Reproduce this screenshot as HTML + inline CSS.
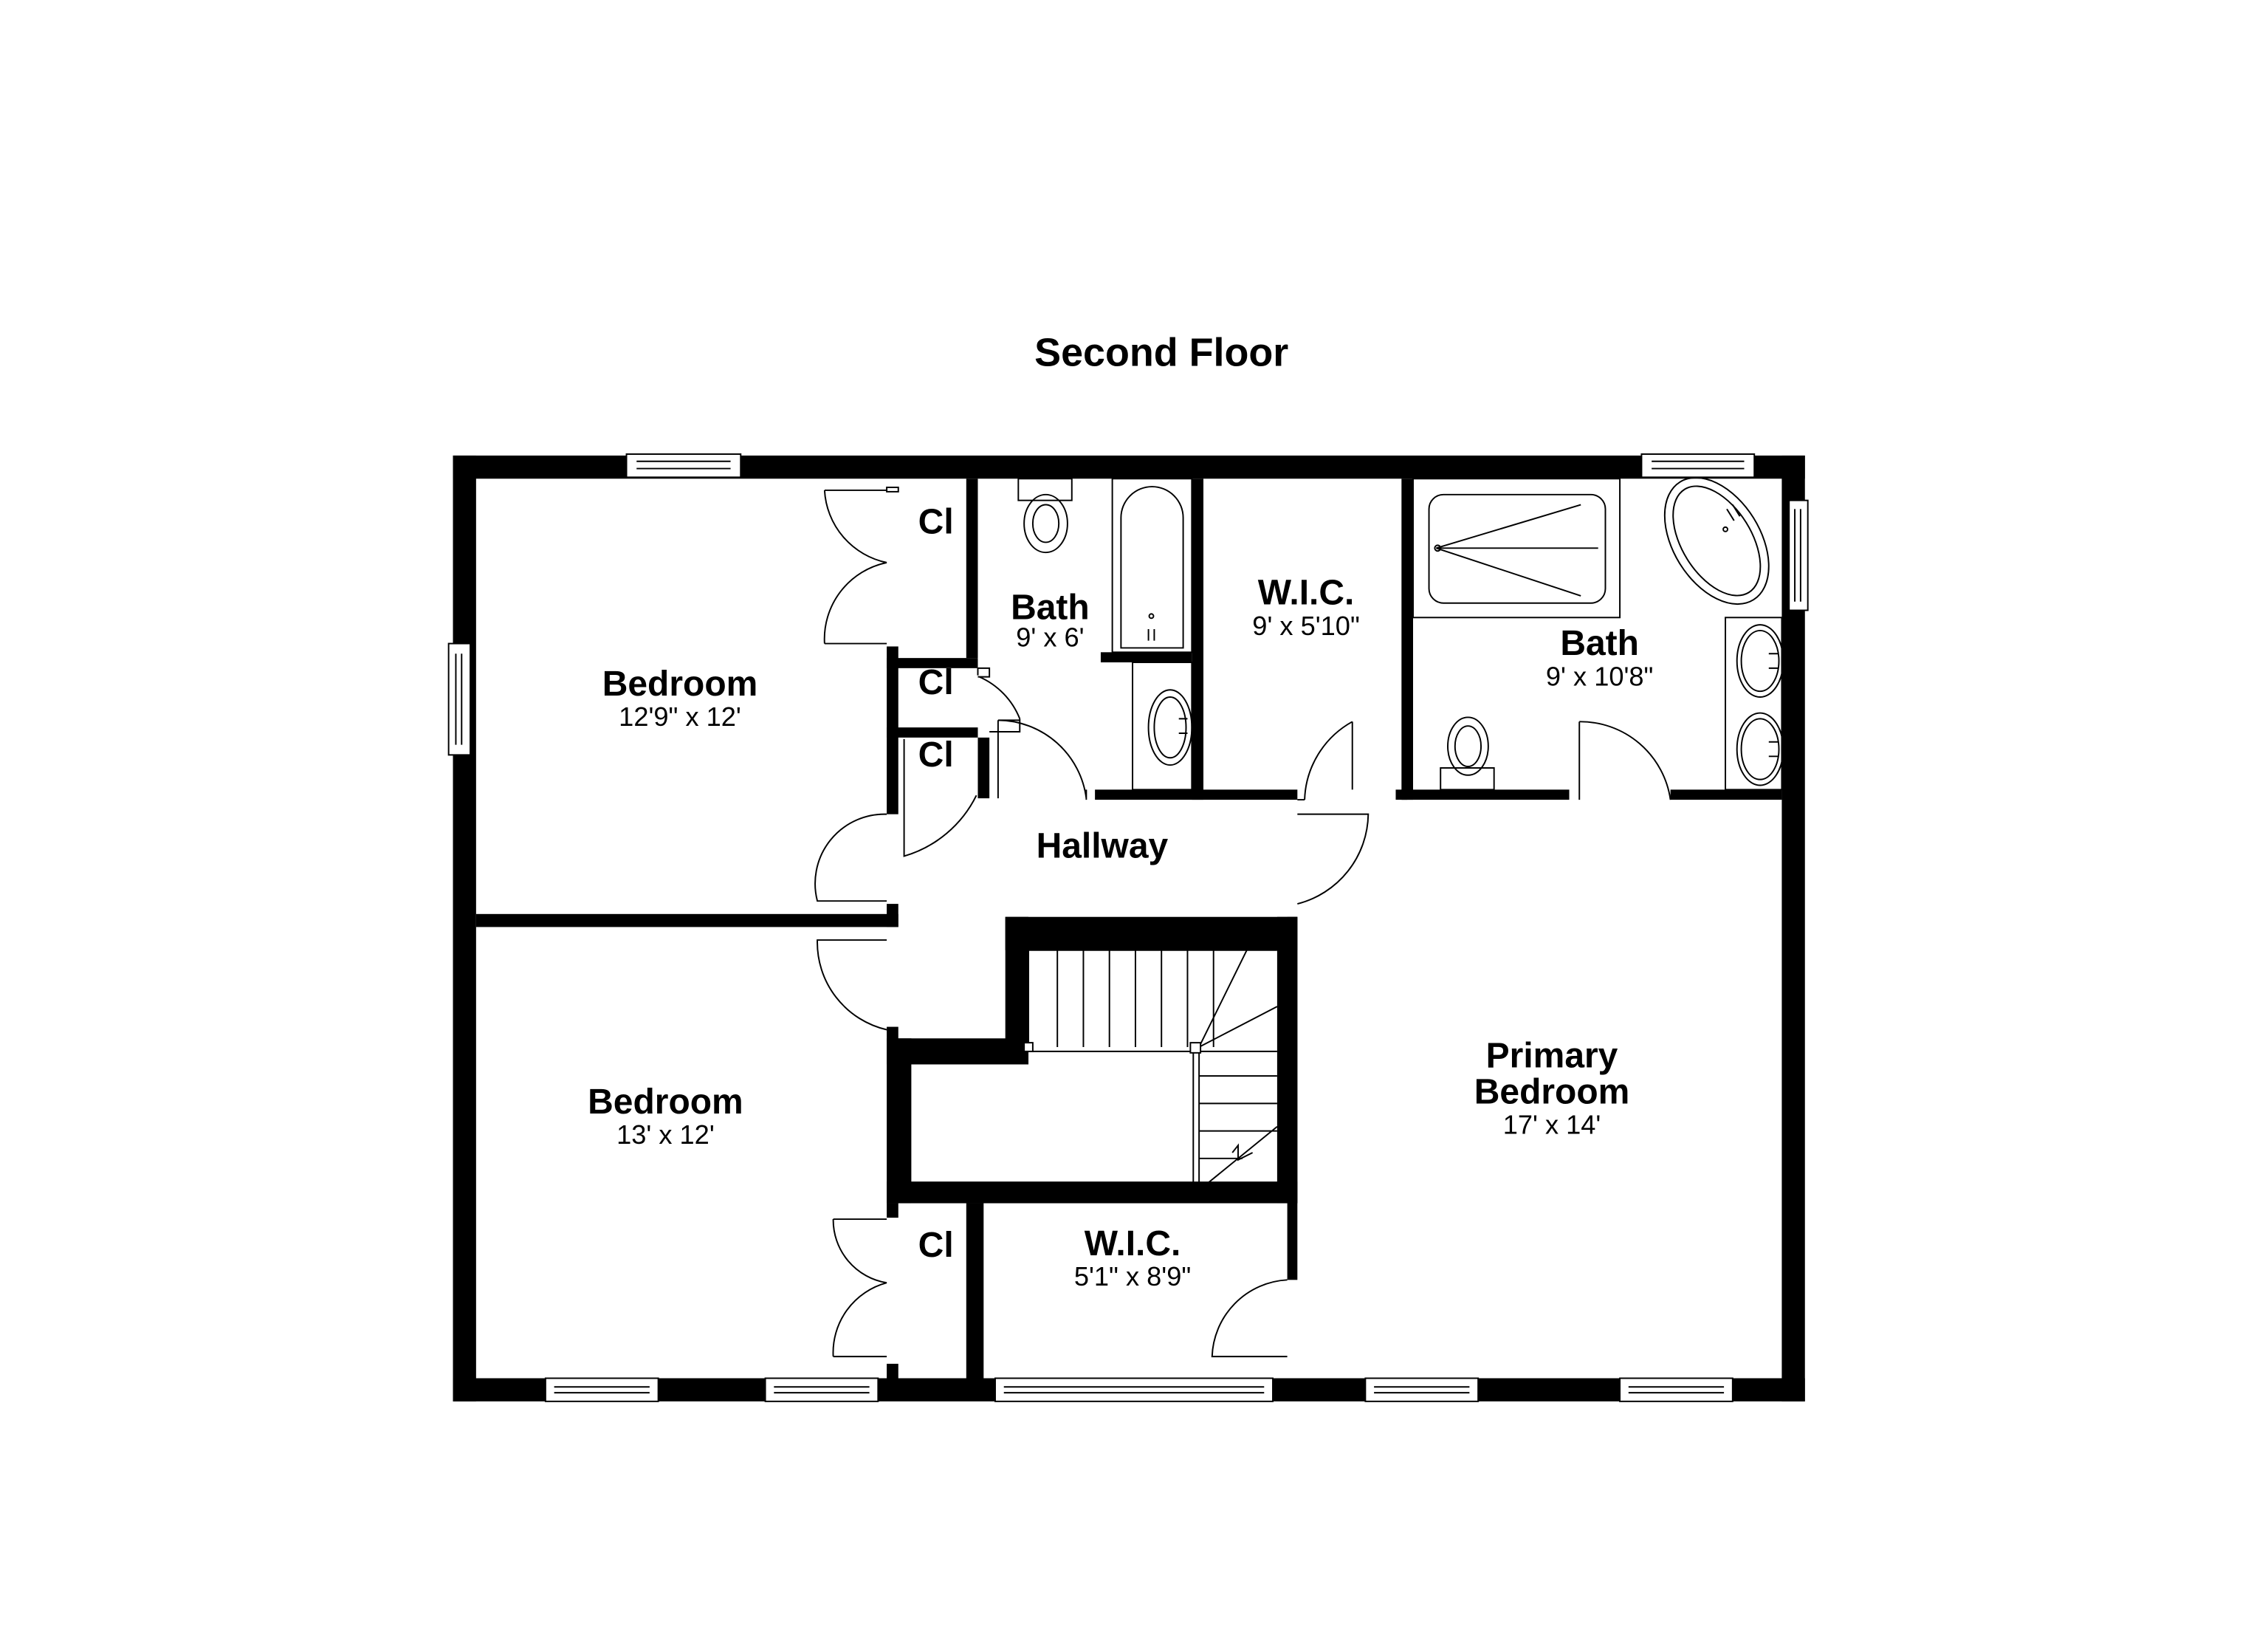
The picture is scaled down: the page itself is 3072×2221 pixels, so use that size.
<!DOCTYPE html>
<html><head><meta charset="utf-8"><style>
html,body{margin:0;padding:0;background:#fff;}
svg{display:block;}
text{font-family:"Liberation Sans",Arial,sans-serif;fill:#000;}
.b{font-weight:bold;font-size:24.5px;}
.d{font-size:18.5px;}
.t{fill:none;stroke:#000;stroke-width:1;}
.w{fill:#fff;stroke:#000;stroke-width:1;}
</style></head><body>
<svg width="3072" height="2221" viewBox="0 0 1568 1134" xmlns="http://www.w3.org/2000/svg">
<rect width="1568" height="1134" fill="#fff"/>
<text x="803" y="253" class="b" text-anchor="middle" style="font-size:27.5px">Second Floor</text>

<g fill="#000">
<rect x="313" y="315" width="935" height="16"/>
<rect x="313" y="953" width="935" height="16"/>
<rect x="313" y="315" width="16" height="654"/>
<rect x="1232" y="315" width="16" height="654"/>
<rect x="668" y="331" width="8" height="124"/>
<rect x="613" y="447" width="8" height="116"/>
<rect x="613" y="455" width="63" height="7"/>
<rect x="613" y="503" width="63" height="7"/>
<rect x="676" y="510" width="8" height="42"/>
<rect x="824" y="331" width="8" height="222"/>
<rect x="761" y="451" width="63" height="7"/>
<rect x="757" y="546" width="140" height="7"/>
<rect x="965" y="546" width="8" height="7"/>
<rect x="969" y="331" width="8" height="222"/>
<rect x="969" y="546" width="116" height="7"/>
<rect x="1155" y="546" width="77" height="7"/>
<rect x="329" y="632" width="292" height="9"/>
<rect x="613" y="625" width="8" height="16"/>
<rect x="695" y="634" width="202" height="23"/>
<rect x="695" y="634" width="16" height="93"/>
<rect x="613" y="718" width="98" height="18"/>
<rect x="613" y="718" width="17" height="114"/>
<rect x="613" y="817" width="284" height="15"/>
<rect x="883" y="634" width="14" height="198"/>
<rect x="890" y="634" width="7" height="251"/>
<rect x="668" y="832" width="12" height="121"/>
<rect x="613" y="832" width="8" height="10"/>
<rect x="613" y="943" width="8" height="10"/>
<rect x="613" y="710" width="8" height="10"/>
</g>

<g>
<rect x="433" y="314" width="79" height="16" class="w"/><line x1="440" y1="319" x2="505" y2="319" class="t"/><line x1="440" y1="324" x2="505" y2="324" class="t"/>
<rect x="1135" y="314" width="78" height="16" class="w"/><line x1="1142" y1="319" x2="1206" y2="319" class="t"/><line x1="1142" y1="324" x2="1206" y2="324" class="t"/>
<rect x="310" y="445" width="15" height="77" class="w"/><line x1="315" y1="452" x2="315" y2="515" class="t"/><line x1="319" y1="452" x2="319" y2="515" class="t"/>
<rect x="1237" y="346" width="13" height="76" class="w"/><line x1="1241" y1="352" x2="1241" y2="416" class="t"/><line x1="1245" y1="352" x2="1245" y2="416" class="t"/>
<rect x="377" y="953" width="78" height="16" class="w"/><line x1="383" y1="959" x2="449" y2="959" class="t"/><line x1="383" y1="963" x2="449" y2="963" class="t"/>
<rect x="529" y="953" width="78" height="16" class="w"/><line x1="535" y1="959" x2="601" y2="959" class="t"/><line x1="535" y1="963" x2="601" y2="963" class="t"/>
<rect x="688" y="953" width="192" height="16" class="w"/><line x1="694" y1="959" x2="874" y2="959" class="t"/><line x1="694" y1="963" x2="874" y2="963" class="t"/>
<rect x="944" y="953" width="78" height="16" class="w"/><line x1="950" y1="959" x2="1016" y2="959" class="t"/><line x1="950" y1="963" x2="1016" y2="963" class="t"/>
<rect x="1120" y="953" width="78" height="16" class="w"/><line x1="1126" y1="959" x2="1192" y2="959" class="t"/><line x1="1126" y1="963" x2="1192" y2="963" class="t"/>
</g>

<g class="t">
<path d="M570 339 H613 M570 339 A54 54 0 0 0 613 389 M570 445 H613 M570 445 A54 54 0 0 1 613 389"/>
<rect x="613" y="337" width="8" height="3" class="w"/>
<path d="M676 462 V467 M676 462 H684 V468 H676 M677 468 A53 53 0 0 1 705 497 M705 497 V506 H684"/>
<path d="M625 511 V592 A81 81 0 0 0 675 550"/>
<path d="M690 498 H705 M690 498 V552 M690 498 A62 62 0 0 1 751 552 M751 546 V553"/>
<path d="M613 563 A48 48 0 0 0 565 623 H613"/>
<path d="M613 650 H565 A62 62 0 0 0 613 712"/>
<path d="M935 499 A64 64 0 0 0 902 553 M935 499 V546 M897 553 H902"/>
<path d="M897 563 H946 A65 65 0 0 1 897 625"/>
<path d="M1092 499 V553 M1092 499 A63 63 0 0 1 1155 553"/>
<path d="M576 843 H613 M576 843 A44 44 0 0 0 613 887 M576 938 H613 M576 938 A50 50 0 0 1 613 887"/>
<path d="M890 885 A55 55 0 0 0 838 938 H890"/>
</g>

<g class="t">
<path d="M711 657 H883 M711 657 V727 M711 727 H883"/>
<path d="M731 657 V724 M749 657 V724 M767 657 V724 M785 657 V724 M803 657 V724 M821 657 V724 M839 657 V724"/>
<path d="M825 724 V823 M829 724 V823 M829 724 L862 657 M829 724 L883 696 M829 744 H883 M829 763 H883 M829 782 H883 M829 801 H859 M829 823 L883 779"/>
<path d="M852 797 L856 792 L856 802 L866 797"/>
<rect x="708" y="721" width="6" height="6" class="w"/>
<rect x="823" y="721" width="7" height="7" class="w"/>
</g>

<g class="t">
<rect x="704" y="331" width="37" height="15"/>
<ellipse cx="723" cy="362" rx="15" ry="20"/><ellipse cx="723" cy="362" rx="9" ry="13"/>
<rect x="769" y="331" width="55" height="120"/>
<path d="M775 448 V358 A20 20 0 0 1 818 358 V448 Z"/>
<circle cx="796" cy="426" r="1.5"/><path d="M794 435 V443 M798 435 V443"/>
<rect x="783" y="458" width="41" height="88"/>
<ellipse cx="809" cy="503" rx="15" ry="26"/><ellipse cx="809" cy="503" rx="11" ry="21"/>
<path d="M815 497 H821 M815 507 H821"/>
<rect x="977" y="331" width="143" height="96"/>
<rect x="988" y="342" width="122" height="75" rx="10"/>
<path d="M993 379 H1105 M993 379 L1093 349 M993 379 L1093 412"/><circle cx="994" cy="379" r="2"/>
<ellipse cx="1187" cy="374" rx="48" ry="30" transform="rotate(58 1187 374)"/>
<ellipse cx="1187" cy="374" rx="42" ry="24" transform="rotate(58 1187 374)"/>
<path d="M1194 352 L1199 360 M1198 349 L1203 357"/><circle cx="1193" cy="366" r="1.5"/>
<rect x="1193" y="427" width="39" height="119"/>
<ellipse cx="1217" cy="457" rx="16" ry="25"/><ellipse cx="1217" cy="457" rx="13" ry="21"/>
<ellipse cx="1217" cy="518" rx="16" ry="25"/><ellipse cx="1217" cy="518" rx="13" ry="21"/>
<path d="M1223 452 H1230 M1223 462 H1230 M1223 513 H1230 M1223 523 H1230"/>
<ellipse cx="1015" cy="516" rx="14" ry="20"/><ellipse cx="1015" cy="516" rx="9" ry="14"/>
<rect x="996" y="531" width="37" height="15"/>
</g>

<g text-anchor="middle">
<text x="647" y="369" class="b">Cl</text>
<text x="647" y="480" class="b">Cl</text>
<text x="647" y="530" class="b">Cl</text>
<text x="647" y="869" class="b">Cl</text>
<text x="470" y="481" class="b">Bedroom</text><text x="470" y="502" class="d">12'9" x 12'</text>
<text x="726" y="428" class="b">Bath</text><text x="726" y="447" class="d">9' x 6'</text>
<text x="903" y="418" class="b">W.I.C.</text><text x="903" y="439" class="d">9' x 5'10"</text>
<text x="1106" y="453" class="b">Bath</text><text x="1106" y="474" class="d">9' x 10'8"</text>
<text x="762" y="593" class="b">Hallway</text>
<text x="460" y="770" class="b">Bedroom</text><text x="460" y="791" class="d">13' x 12'</text>
<text x="1073" y="738" class="b">Primary</text><text x="1073" y="763" class="b">Bedroom</text><text x="1073" y="784" class="d">17' x 14'</text>
<text x="783" y="868" class="b">W.I.C.</text><text x="783" y="889" class="d">5'1" x 8'9"</text>
</g>
</svg>
</body></html>
